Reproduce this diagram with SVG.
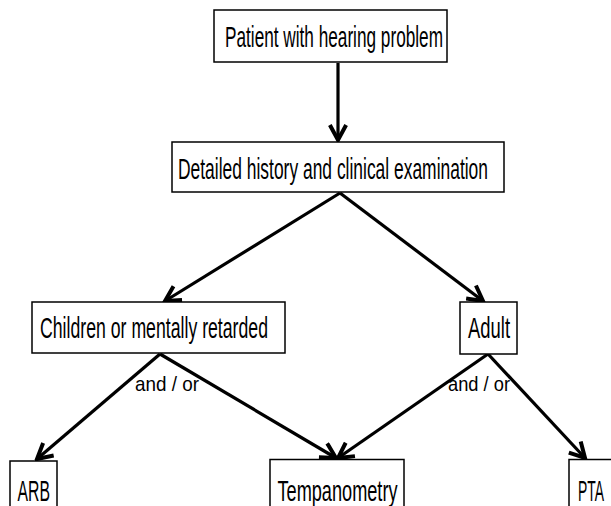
<svg xmlns="http://www.w3.org/2000/svg" width="611" height="506" viewBox="0 0 611 506">
<style>
.box{fill:#fff;stroke:#000;stroke-width:1.5}
.t{font-family:"Liberation Sans",Arial,sans-serif;font-size:29px;fill:#000}
.s{font-family:"Liberation Sans",Arial,sans-serif;font-size:21px;fill:#000}
.c{fill:none;stroke:#000;stroke-width:3.2}
</style>
<defs>
<marker id="ah" markerUnits="userSpaceOnUse" markerWidth="20" markerHeight="20" viewBox="-14 -8 16 16" refX="0" refY="0" orient="auto">
<polyline points="-12,-6.5 0,0 -12,6.5" fill="none" stroke="#000" stroke-width="3.2"/>
</marker>
</defs>
<rect width="611" height="506" fill="#fff"/>
<g id="connectors">
<line class="c" x1="338" y1="63" x2="338" y2="140" marker-end="url(#ah)"/>
<line class="c" x1="340" y1="193" x2="165" y2="301" marker-end="url(#ah)"/>
<line class="c" x1="340" y1="193" x2="483" y2="301" marker-end="url(#ah)"/>
<line class="c" x1="160" y1="354" x2="37" y2="459" marker-end="url(#ah)"/>
<line class="c" x1="160" y1="354" x2="336" y2="458" marker-end="url(#ah)"/>
<line class="c" x1="488" y1="354" x2="338" y2="458" marker-end="url(#ah)"/>
<line class="c" x1="488" y1="354" x2="585" y2="458" marker-end="url(#ah)"/>
<text class="s" x="135" y="391" textLength="64" lengthAdjust="spacingAndGlyphs">and / or</text>
<text class="s" x="448" y="391" textLength="62" lengthAdjust="spacingAndGlyphs">and / or</text>
</g>
<g id="n1">
<rect class="box" x="214" y="10" width="233" height="52"/>
<text class="t" x="225" y="47" textLength="218" lengthAdjust="spacingAndGlyphs">Patient with hearing problem</text>
</g>
<g id="n2">
<rect class="box" x="172" y="142" width="332" height="50"/>
<text class="t" x="178" y="179" textLength="310" lengthAdjust="spacingAndGlyphs">Detailed history and clinical examination</text>
</g>
<g id="n3">
<rect class="box" x="32" y="302" width="253" height="51"/>
<text class="t" x="40" y="338" textLength="228" lengthAdjust="spacingAndGlyphs">Children or mentally retarded</text>
</g>
<g id="n4">
<rect class="box" x="460" y="302" width="57" height="52"/>
<text class="t" x="468" y="338" textLength="42" lengthAdjust="spacingAndGlyphs">Adult</text>
</g>
<g id="n5">
<rect class="box" x="10" y="461" width="47" height="60"/>
<text class="t" x="17.5" y="501" textLength="32.5" lengthAdjust="spacingAndGlyphs">ARB</text>
</g>
<g id="n6">
<rect class="box" x="270" y="459.5" width="134" height="60"/>
<text class="t" x="277.5" y="501" textLength="120" lengthAdjust="spacingAndGlyphs">Tempanometry</text>
</g>
<g id="n7">
<rect class="box" x="569" y="459.5" width="60" height="60"/>
<text class="t" x="578" y="501" textLength="26" lengthAdjust="spacingAndGlyphs">PTA</text>
</g>
</svg>
